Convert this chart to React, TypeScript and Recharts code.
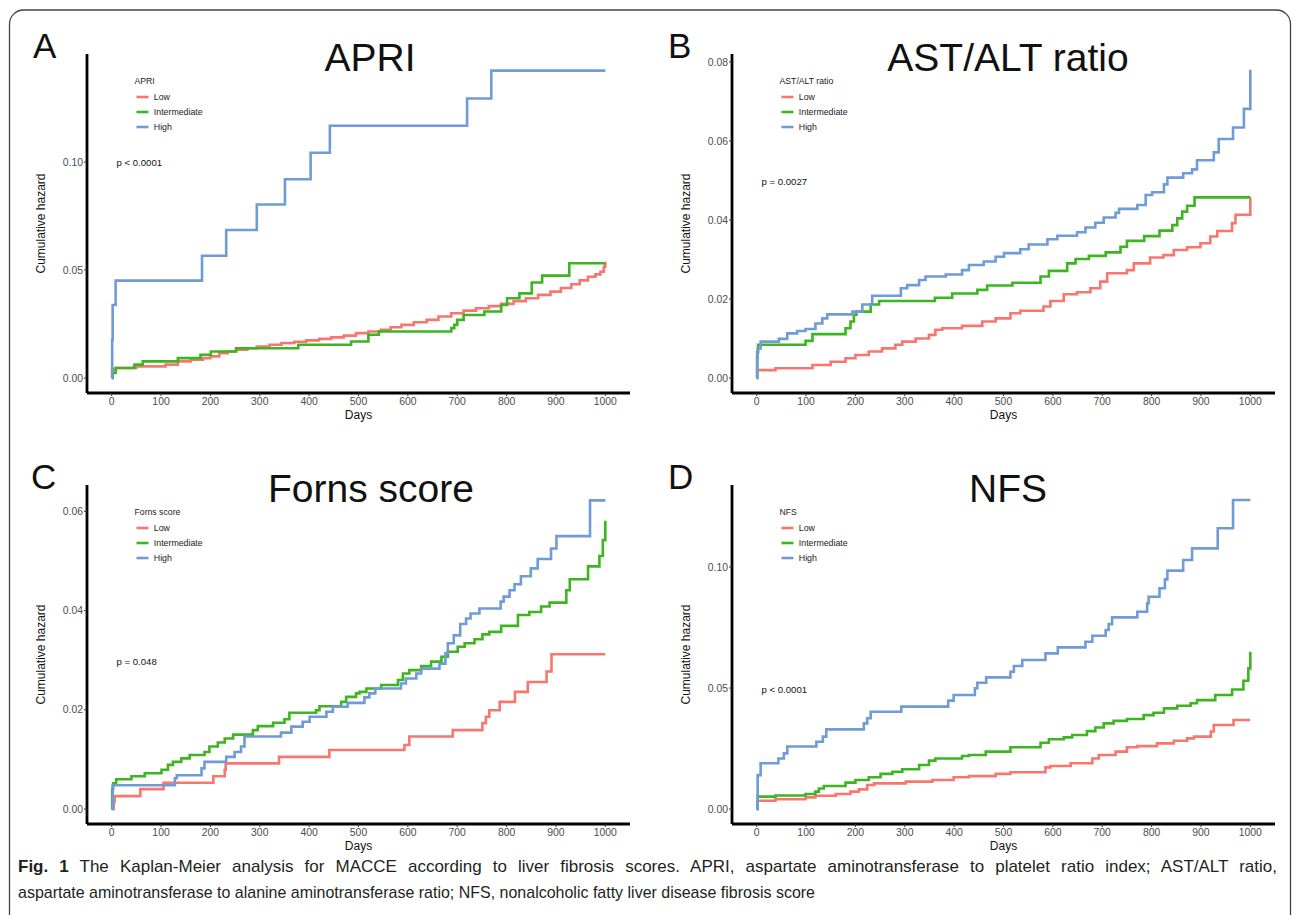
import React, { useLayoutEffect, useRef, useState } from 'react'
import { LineChart, Line, XAxis, YAxis } from 'recharts'

// colours of the three strata
const LOW = '#F8766D'
const INTERMEDIATE = '#3CB521'
const HIGH = '#6F9BD6'

const STRATA = ['Low', 'Intermediate', 'High']
const DAY_TICKS = [0, 100, 200, 300, 400, 500, 600, 700, 800, 900, 1000]

// [day, cumulative hazard]
const APRI_LOW: [number, number][] = [
  [0, 0], [1, 0.004], [8, 0.0046], [50, 0.0054], [109, 0.0062], [134, 0.0077], [160, 0.0085],
  [185, 0.0092], [200, 0.01], [218, 0.0115], [235, 0.0123], [252, 0.0131], [275, 0.0138],
  [294, 0.0146], [320, 0.0154], [344, 0.0162], [370, 0.0168], [394, 0.0174], [420, 0.0181],
  [445, 0.0188], [470, 0.0196], [495, 0.0208], [520, 0.0215], [545, 0.0223], [565, 0.0235],
  [587, 0.0246], [612, 0.0258], [638, 0.0269], [662, 0.0285], [688, 0.03], [713, 0.0312],
  [738, 0.0323], [764, 0.0333], [789, 0.0343], [814, 0.0356], [839, 0.0369], [864, 0.0385],
  [889, 0.04], [910, 0.0417], [931, 0.0434], [948, 0.0452], [965, 0.0469], [980, 0.048],
  [990, 0.0492], [997, 0.0515], [1000, 0.0538],
]
const APRI_INT: [number, number][] = [
  [0, 0], [2, 0.0023], [8, 0.0046], [46, 0.0062], [63, 0.0077], [134, 0.0092], [180, 0.0108],
  [201, 0.0123], [252, 0.0138], [378, 0.0154], [485, 0.0169], [520, 0.02], [541, 0.0215],
  [688, 0.0231], [694, 0.0246], [700, 0.0269], [713, 0.0292], [755, 0.0308], [789, 0.0338],
  [801, 0.0369], [826, 0.0392], [851, 0.0442], [872, 0.0474], [927, 0.0531], [1000, 0.0531],
]
const APRI_HIGH: [number, number][] = [
  [0, 0], [1, 0.0177], [2, 0.0338], [8, 0.0451], [183, 0.0566], [232, 0.0685], [294, 0.0803],
  [351, 0.092], [403, 0.1043], [442, 0.1168], [720, 0.1294], [769, 0.1423], [1000, 0.1423],
]

const AST_LOW: [number, number][] = [
  [0, 0], [1, 0.002], [38, 0.00245], [113, 0.0033], [150, 0.0041], [180, 0.005], [200, 0.0058],
  [227, 0.0067], [254, 0.0075], [281, 0.0084], [295, 0.0092], [322, 0.01], [349, 0.0109],
  [362, 0.0122], [376, 0.0126], [416, 0.0132], [457, 0.0143], [484, 0.0151], [514, 0.0164],
  [534, 0.017], [581, 0.0181], [595, 0.0195], [622, 0.0212], [649, 0.0217], [676, 0.0227],
  [696, 0.0244], [710, 0.0265], [750, 0.0273], [764, 0.029], [797, 0.0305], [824, 0.0311],
  [845, 0.0324], [872, 0.0331], [899, 0.0341], [919, 0.0358], [933, 0.0372], [963, 0.0392],
  [970, 0.0413], [1000, 0.0457],
]
const AST_INT: [number, number][] = [
  [0, 0], [1, 0.0065], [3, 0.0084], [99, 0.0094], [113, 0.0111], [180, 0.0126], [190, 0.0143],
  [197, 0.016], [202, 0.0168], [231, 0.0186], [248, 0.0195], [361, 0.0203], [396, 0.0214],
  [447, 0.0223], [467, 0.0234], [518, 0.0241], [575, 0.0257], [592, 0.0271], [629, 0.029],
  [646, 0.0301], [673, 0.0309], [707, 0.0318], [737, 0.0332], [750, 0.0347], [785, 0.0359],
  [816, 0.0373], [842, 0.0387], [852, 0.0404], [862, 0.0421], [872, 0.0436], [887, 0.0457],
  [1000, 0.0457],
]
const AST_HIGH: [number, number][] = [
  [0, 0], [1, 0.005], [2, 0.0075], [8, 0.0092], [45, 0.0099], [62, 0.0113], [82, 0.0119],
  [99, 0.0124], [119, 0.0138], [133, 0.0151], [143, 0.0161], [194, 0.0168], [214, 0.0186],
  [234, 0.0208], [292, 0.0227], [305, 0.0235], [329, 0.0248], [342, 0.0257], [383, 0.0262],
  [416, 0.0273], [430, 0.0286], [460, 0.0295], [484, 0.0307], [501, 0.0316], [534, 0.0326],
  [551, 0.0338], [589, 0.0351], [609, 0.036], [649, 0.0369], [666, 0.0381], [686, 0.0393],
  [703, 0.0406], [727, 0.0418], [734, 0.0428], [771, 0.0438], [788, 0.0463], [801, 0.047],
  [825, 0.049], [832, 0.0507], [864, 0.0518], [882, 0.0528], [892, 0.0551], [926, 0.0571],
  [936, 0.0605], [965, 0.0634], [987, 0.0681], [1000, 0.078],
]

const FORNS_LOW: [number, number][] = [
  [0, 0], [4, 0.0015], [6, 0.0026], [58, 0.004], [105, 0.0053], [206, 0.0066], [229, 0.0079],
  [231, 0.0092], [339, 0.0105], [441, 0.0119], [593, 0.0129], [603, 0.0146], [691, 0.0159],
  [751, 0.0173], [758, 0.0186], [765, 0.0199], [786, 0.0216], [817, 0.0236], [843, 0.0256],
  [881, 0.0277], [891, 0.0312], [1000, 0.0312],
]
const FORNS_INT: [number, number][] = [
  [0, 0], [1, 0.004], [3, 0.0052], [9, 0.006], [40, 0.0066], [67, 0.0072], [101, 0.0079],
  [114, 0.0089], [124, 0.0095], [141, 0.0102], [158, 0.0109], [188, 0.0115], [198, 0.0126],
  [215, 0.0134], [229, 0.0142], [246, 0.015], [286, 0.0159], [296, 0.0167], [327, 0.0174],
  [350, 0.0181], [360, 0.0194], [414, 0.0199], [421, 0.0207], [465, 0.0216], [475, 0.0226],
  [495, 0.0233], [502, 0.0236], [516, 0.0243], [546, 0.025], [580, 0.026], [590, 0.0273],
  [603, 0.028], [627, 0.0288], [647, 0.0297], [668, 0.0307], [681, 0.0317], [701, 0.0327],
  [715, 0.0334], [735, 0.0342], [751, 0.0352], [765, 0.0357], [789, 0.0369], [823, 0.0391],
  [846, 0.0397], [870, 0.0408], [887, 0.0416], [921, 0.0441], [928, 0.0463], [965, 0.0489],
  [988, 0.051], [995, 0.0542], [1000, 0.0581],
]
const FORNS_HIGH: [number, number][] = [
  [0, 0], [2, 0.0048], [128, 0.0062], [132, 0.0068], [182, 0.0082], [188, 0.0095], [232, 0.0105],
  [249, 0.0115], [262, 0.0126], [269, 0.0146], [343, 0.0154], [364, 0.0166], [387, 0.0176],
  [401, 0.0186], [435, 0.0196], [448, 0.0206], [478, 0.0214], [512, 0.0225], [522, 0.0233],
  [534, 0.0243], [586, 0.0253], [596, 0.0263], [617, 0.0273], [627, 0.0283], [664, 0.0293],
  [676, 0.0314], [681, 0.0334], [693, 0.035], [706, 0.0373], [718, 0.0384], [727, 0.0394],
  [745, 0.0404], [788, 0.0418], [794, 0.0428], [806, 0.0441], [816, 0.0453], [829, 0.0469],
  [849, 0.0485], [863, 0.0504], [890, 0.0525], [901, 0.055], [969, 0.0622], [1000, 0.0622],
]

const NFS_LOW: [number, number][] = [
  [0, 0], [2, 0.0034], [38, 0.004], [99, 0.0048], [119, 0.0055], [160, 0.0062], [190, 0.0072],
  [207, 0.0081], [224, 0.0099], [238, 0.0106], [302, 0.0113], [356, 0.012], [399, 0.0131],
  [430, 0.0136], [484, 0.0145], [514, 0.0152], [585, 0.0172], [595, 0.0178], [636, 0.0189],
  [680, 0.0209], [693, 0.0223], [727, 0.0237], [750, 0.0255], [771, 0.026], [811, 0.0271],
  [845, 0.0282], [872, 0.0292], [886, 0.0299], [920, 0.032], [926, 0.0347], [966, 0.0368],
  [1000, 0.0368],
]
const NFS_INT: [number, number][] = [
  [0, 0], [2, 0.0051], [38, 0.0056], [99, 0.0062], [119, 0.0072], [126, 0.0085], [136, 0.0095],
  [180, 0.0109], [200, 0.012], [227, 0.0131], [251, 0.0145], [275, 0.0154], [295, 0.0164],
  [329, 0.0182], [349, 0.02], [362, 0.0209], [416, 0.0219], [430, 0.0223], [464, 0.0237],
  [514, 0.0255], [575, 0.0274], [592, 0.0288], [622, 0.0296], [639, 0.0306], [669, 0.0322],
  [686, 0.0337], [703, 0.0354], [723, 0.0364], [750, 0.0372], [784, 0.0388], [804, 0.0398],
  [825, 0.0416], [852, 0.0427], [879, 0.0437], [892, 0.045], [929, 0.0471], [963, 0.0494],
  [986, 0.053], [996, 0.0581], [1000, 0.065],
]
const NFS_HIGH: [number, number][] = [
  [0, 0], [2, 0.014], [8, 0.0189], [44, 0.0209], [55, 0.023], [62, 0.0258], [121, 0.0278],
  [134, 0.0299], [141, 0.0329], [217, 0.0354], [224, 0.0375], [231, 0.0402], [293, 0.0423],
  [388, 0.0448], [399, 0.0471], [442, 0.0499], [447, 0.0522], [465, 0.0544], [514, 0.0567],
  [521, 0.0591], [538, 0.0616], [585, 0.0643], [610, 0.0668], [666, 0.0691], [680, 0.0716],
  [707, 0.074], [713, 0.0764], [720, 0.0792], [771, 0.0815], [791, 0.085], [794, 0.0877],
  [816, 0.0912], [827, 0.0949], [832, 0.0985], [864, 0.1029], [882, 0.1077], [934, 0.116],
  [965, 0.1277], [1000, 0.1277],
]

const toPoints = (rows: [number, number][]) => rows.map(([day, h]) => ({ day, h }))

const FONT = '"Liberation Sans", Arial, Helvetica, sans-serif'

// plot area inside each 640x410 chart: x 87..630, y 54..393
const PANELS = [
  {
    letter: 'A', title: 'APRI', legendTitle: 'APRI', p: 'p < 0.0001', left: 0, top: 0,
    yDomain: [-0.00694, 0.15], yTicks: [0, 0.05, 0.1], pY: 165.5, letterX: 33, titleX: 370,
    series: [APRI_LOW, APRI_INT, APRI_HIGH],
  },
  {
    letter: 'B', title: 'AST/ALT ratio', legendTitle: 'AST/ALT ratio', p: 'p = 0.0027', left: 645, top: 0,
    yDomain: [-0.0038, 0.082], yTicks: [0, 0.02, 0.04, 0.06, 0.08], pY: 185, letterX: 23, titleX: 363,
    series: [AST_LOW, AST_INT, AST_HIGH],
  },
  {
    letter: 'C', title: 'Forns score', legendTitle: 'Forns score', p: 'p = 0.048', left: 0, top: 431,
    yDomain: [-0.00302, 0.0653], yTicks: [0, 0.02, 0.04, 0.06], pY: 234, letterX: 31, titleX: 371,
    series: [FORNS_LOW, FORNS_INT, FORNS_HIGH],
  },
  {
    letter: 'D', title: 'NFS', legendTitle: 'NFS', p: 'p < 0.0001', left: 645, top: 431,
    yDomain: [-0.0062, 0.1339], yTicks: [0, 0.05, 0.1], pY: 261.5, letterX: 23, titleX: 363,
    series: [NFS_LOW, NFS_INT, NFS_HIGH],
  },
]

const COLORS = [LOW, INTERMEDIATE, HIGH]

const CAPTION_1 =
  ' The Kaplan-Meier analysis for MACCE according to liver fibrosis scores. APRI, aspartate aminotransferase to platelet ratio index; AST/ALT ratio,'
const CAPTION_2 =
  'aspartate aminotransferase to alanine aminotransferase ratio; NFS, nonalcoholic fatty liver disease fibrosis score'

function KmPanel({ panel }: { panel: (typeof PANELS)[number] }) {
  return (
    <div style={{ position: 'absolute', left: panel.left, top: panel.top }}>
      <LineChart width={640} height={410} margin={{ top: 54, right: 10, bottom: 0, left: 0 }}>
        <XAxis
          type="number"
          dataKey="day"
          domain={[-50, 1050]}
          ticks={DAY_TICKS}
          interval={0}
          allowDataOverflow
          height={17}
          tickSize={3}
          tickMargin={2}
          tick={{ fill: '#4d4d4d', fontSize: 10.4, fontFamily: FONT }}
          axisLine={{ stroke: '#000', strokeWidth: 2.8 }}
          tickLine={{ stroke: '#333', strokeWidth: 1 }}
        />
        <YAxis
          type="number"
          domain={panel.yDomain}
          ticks={panel.yTicks}
          interval={0}
          allowDataOverflow
          width={87}
          tickSize={3}
          tickMargin={1}
          tickFormatter={(v: number) => v.toFixed(2)}
          tick={{ fill: '#4d4d4d', fontSize: 10.4, fontFamily: FONT }}
          axisLine={{ stroke: '#000', strokeWidth: 2.8 }}
          tickLine={{ stroke: '#333', strokeWidth: 1 }}
        />
        {panel.series.map((rows, i) => (
          <Line
            key={STRATA[i]}
            data={toPoints(rows)}
            dataKey="h"
            name={STRATA[i]}
            type="stepAfter"
            stroke={COLORS[i]}
            strokeWidth={2.6}
            dot={false}
            activeDot={false}
            isAnimationActive={false}
          />
        ))}
      </LineChart>
    </div>
  )
}

function PanelText({ panel }: { panel: (typeof PANELS)[number] }) {
  const x0 = panel.left + 87 // y axis position
  const y0 = panel.top + 54 // top of plot
  return (
    <g fontFamily={FONT}>
      <text x={panel.left + panel.letterX} y={y0 + 4} fontSize={35} fill="#111">{panel.letter}</text>
      <text x={panel.left + panel.titleX} y={y0 + 17} fontSize={39} textAnchor="middle" fill="#111">
        {panel.title}
      </text>
      {/* legend */}
      <text x={x0 + 47.5} y={y0 + 30} fontSize={8.7} fill="#222">{panel.legendTitle}</text>
      {STRATA.map((s, i) => (
        <g key={s}>
          <line x1={x0 + 49.5} x2={x0 + 61.5} y1={y0 + 43 + i * 15} y2={y0 + 43 + i * 15}
            stroke={COLORS[i]} strokeWidth={2.6} />
          <text x={x0 + 66.8} y={y0 + 46.2 + i * 15} fontSize={8.8} fill="#222">{s}</text>
        </g>
      ))}
      <text x={x0 + 29.5} y={panel.top + panel.pY} fontSize={9.6} fill="#111">{panel.p}</text>
      <text
        transform={`translate(${x0 - 42.5}, ${y0 + 169.5}) rotate(-90)`}
        fontSize={12}
        textAnchor="middle"
        fill="#111"
      >
        Cumulative hazard
      </text>
      <text x={x0 + 271.5} y={y0 + 365} fontSize={12} textAnchor="middle" fill="#111">Days</text>
    </g>
  )
}

function Caption() {
  const lineRef = useRef<SVGTextElement>(null)
  const [wordGap, setWordGap] = useState(0)

  // first line is justified to the full width with word spacing
  useLayoutEffect(() => {
    const el = lineRef.current
    if (!el) return
    const natural = el.getComputedTextLength()
    const gaps = ('Fig. 1' + CAPTION_1).split(' ').length - 1
    setWordGap(Math.max(0, (1259 - natural) / gaps))
  }, [])

  return (
    <g fontFamily={FONT} fontSize={17} fill="#231f20">
      <text ref={lineRef} x={18} y={872} style={{ wordSpacing: wordGap }}>
        <tspan fontWeight="bold">Fig. 1</tspan>
        <tspan>{CAPTION_1}</tspan>
      </text>
      <text x={18} y={898} textLength={797} lengthAdjust="spacingAndGlyphs">
        {CAPTION_2}
      </text>
    </g>
  )
}

export default function App() {
  return (
    <div
      style={{
        position: 'absolute',
        left: 0,
        top: 0,
        width: 1293,
        height: 915,
        overflow: 'hidden',
        background: '#fff',
      }}
    >
      {PANELS.map((p) => (
        <KmPanel key={p.letter} panel={p} />
      ))}
      <svg
        width={1293}
        height={915}
        style={{ position: 'absolute', left: 0, top: 0, pointerEvents: 'none' }}
      >
        <rect x={9.5} y={10} width={1281} height={960} rx={14} fill="none" stroke="#444" strokeWidth={1.3} />
        {PANELS.map((p) => (
          <PanelText key={p.letter} panel={p} />
        ))}
        <Caption />
      </svg>
    </div>
  )
}
